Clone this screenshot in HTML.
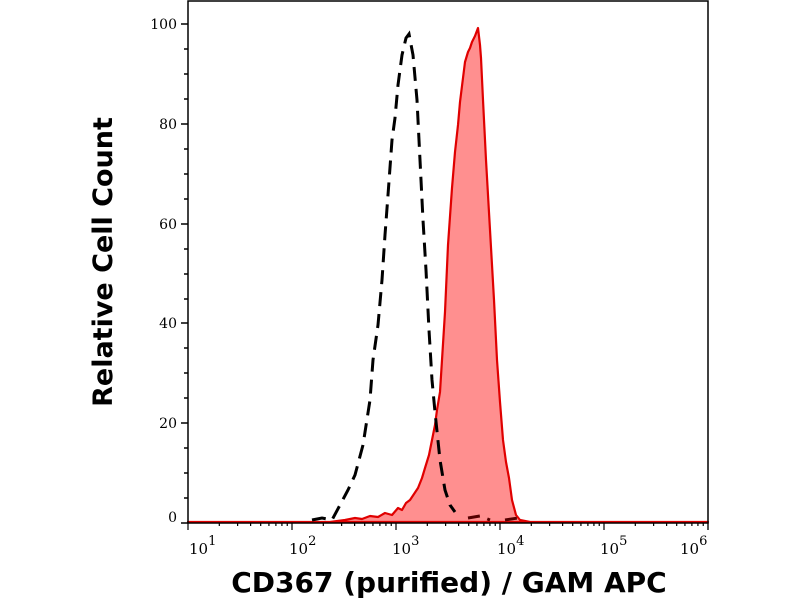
<!DOCTYPE html>
<html><head><style>
body{margin:0;background:#fff;}
svg text{font-family:"DejaVu Serif","Liberation Serif",serif;}
</style></head><body>
<svg width="800" height="600" viewBox="0 0 800 600" xmlns="http://www.w3.org/2000/svg">
<rect x="0" y="0" width="800" height="600" fill="#fff"/>
<path d="M188,522 L330,522 L345,520 L355,518 L362,519 L370,516 L378,517 L385,513 L392,515 L398,508 L402,510 L406,503 L410,500 L414,494 L418,488 L422,478 L425,468 L429,455 L432,440 L435,425 L437,410 L440,392 L442,360 L445,312 L448,245 L452,188 L455,152 L458,125 L460,102 L463,78 L465,62 L468,52 L470,48 L472,42 L475,36 L478,28 L480,45 L481,58 L483,100 L486,160 L490,230 L494,300 L497,360 L500,402 L503,440 L506,462 L509,478 L512,500 L516,515 L520,520 L530,522 L708,522 Z" fill="#ff8f8f" stroke="#e00000" stroke-width="2.2" stroke-linejoin="round"/>
<path d="M312,520 L322,518 L332,520 L340,505 L348,490 L355,475 L363,445 L370,400 L373,360 L378,325 L382,280 L385,235 L388,195 L392,140 L395,118 L398,85 L402,55 L406,38 L409,34 L413,55 L417,100 L420,160 L423,220 L426,270 L429,330 L432,380 L435,412 L440,460 L445,490 L450,505 L455,512" fill="none" stroke="#000" stroke-width="3" stroke-dasharray="14,8"/>
<path d="M468,518 L480,516 L490,520 M505,520 L518,518" fill="none" stroke="#500" stroke-width="3" stroke-dasharray="12,8"/>
<rect x="188" y="1" width="520" height="522" fill="none" stroke="#000" stroke-width="1.5"/>
<g stroke="#000" stroke-width="1.5">
<line x1="181" y1="24" x2="188" y2="24"/><line x1="181" y1="124" x2="188" y2="124"/>
<line x1="181" y1="224" x2="188" y2="224"/><line x1="181" y1="323" x2="188" y2="323"/>
<line x1="181" y1="423" x2="188" y2="423"/><line x1="181" y1="523" x2="188" y2="523"/>
<line x1="184" y1="49" x2="188" y2="49"/><line x1="184" y1="74" x2="188" y2="74"/><line x1="184" y1="99" x2="188" y2="99"/>
<line x1="184" y1="149" x2="188" y2="149"/><line x1="184" y1="174" x2="188" y2="174"/><line x1="184" y1="199" x2="188" y2="199"/>
<line x1="184" y1="249" x2="188" y2="249"/><line x1="184" y1="274" x2="188" y2="274"/><line x1="184" y1="299" x2="188" y2="299"/>
<line x1="184" y1="348" x2="188" y2="348"/><line x1="184" y1="373" x2="188" y2="373"/><line x1="184" y1="398" x2="188" y2="398"/>
<line x1="184" y1="448" x2="188" y2="448"/><line x1="184" y1="473" x2="188" y2="473"/><line x1="184" y1="498" x2="188" y2="498"/>
</g>
<g id="xt" stroke="#000" stroke-width="1.2"></g>
<g font-size="14" text-anchor="end" fill="#000">
<text x="177" y="29">100</text><text x="177" y="129">80</text><text x="177" y="229">60</text>
<text x="177" y="328">40</text><text x="177" y="428">20</text><text x="177" y="522">0</text>
</g>
<g font-size="15" fill="#000">
<text x="189" y="554">10<tspan font-size="13" dy="-9">1</tspan></text>
<text x="289" y="554">10<tspan font-size="13" dy="-9">2</tspan></text>
<text x="392" y="554">10<tspan font-size="13" dy="-9">3</tspan></text>
<text x="497" y="554">10<tspan font-size="13" dy="-9">4</tspan></text>
<text x="600" y="554">10<tspan font-size="13" dy="-9">5</tspan></text>
<text x="680" y="554">10<tspan font-size="13" dy="-9">6</tspan></text>
</g>
<text x="449" y="592" text-anchor="middle" font-size="28" font-weight="bold" style="font-family:'DejaVu Sans',sans-serif">CD367 (purified) / GAM APC</text>
<text transform="translate(112,262) rotate(-90)" text-anchor="middle" font-size="27" font-weight="bold" style="font-family:'DejaVu Sans',sans-serif">Relative Cell Count</text>
</svg>
<script>
var g=document.getElementById('xt'),s='';
for(var d=0;d<6;d++){for(var k=1;k<10;k++){var x=188+104*(d+Math.log10(k));if(x>709)break;var L=k==1?7:3;
s+='<line x1="'+x+'" y1="523" x2="'+x+'" y2="'+(523+L)+'"/>';}}
s+='<line x1="708" y1="523" x2="708" y2="530"/>';
g.innerHTML=s;
</script>
</body></html>
